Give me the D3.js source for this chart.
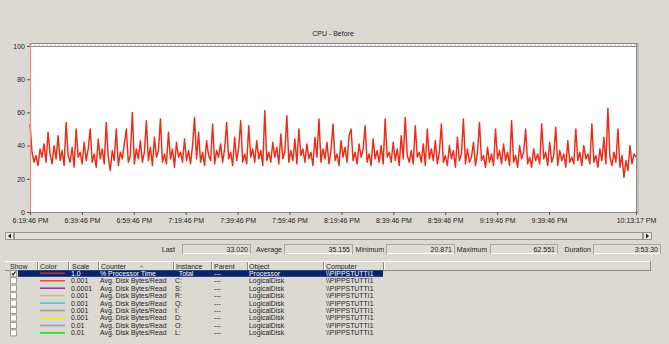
<!DOCTYPE html>
<html>
<head>
<meta charset="utf-8">
<script src="https://cdn.jsdelivr.net/npm/d3@7"></script>
<style>
  body { margin: 0; background: #dcd9d3; }
  svg { display: block; font-family: "Liberation Sans", Arial, sans-serif; }
</style>
</head>
<body>
<div id="chart"></div>
<script>
// Perfmon style chart - CPU before

const width = 669;
const height = 344;
const plot = {left: 30, right: 636, top: 46, bottom: 212};

// ---- data ----
const chartTitle = "CPU - Before";
const startTime = new Date(2010, 0, 1, 18, 19, 46);
const endTime = new Date(2010, 0, 1, 22, 13, 17);
const yTicks = [0, 20, 40, 60, 80, 100];
const xTickLabels = ["6:19:46 PM", "6:39:46 PM", "6:59:46 PM", "7:19:46 PM", "7:39:46 PM",
  "7:59:46 PM", "8:19:46 PM", "8:39:46 PM", "8:59:46 PM", "9:19:46 PM", "9:39:46 PM", "10:13:17 PM"];

// % Processor Time samples
const cpuValues = [
  53, 36, 30, 34, 28, 38, 33, 41, 30, 48,
  35, 29, 40, 32, 46, 31, 37, 28, 54, 34,
  30, 39, 27, 50, 33, 36, 29, 42, 31, 38,
  50, 30, 35, 27, 44, 32, 38, 29, 54, 33,
  25, 37, 31, 50, 28, 36, 32, 41, 50, 30,
  34, 60, 29, 38, 32, 43, 30, 36, 55, 31,
  39, 28, 45, 33, 37, 56, 30, 35, 29, 48,
  32, 38, 27, 42, 33, 36, 30, 44, 31, 37,
  29, 40, 57, 32, 48, 30, 36, 28, 43, 34,
  31, 53, 29, 37, 33, 41, 30, 38, 54, 32,
  36, 28, 45, 31, 39, 55, 30, 35, 29, 52,
  33, 38, 30, 43, 32, 37, 28, 61, 31, 36,
  30, 42, 33, 39, 29, 47, 32, 36, 58, 30,
  37, 31, 44, 29, 50, 34, 38, 30, 41, 32,
  36, 28, 45, 33, 56, 30, 38, 32, 42, 29,
  37, 53, 31, 35, 28, 43, 33, 39, 30, 46,
  50, 31, 36, 29, 41, 33, 38, 52, 30, 35,
  28, 44, 32, 37, 30, 40, 29, 56, 33, 36,
  30, 42, 31, 38, 28, 46, 32, 57, 34, 30,
  37, 29, 52, 33, 36, 30, 41, 28, 50, 32,
  38, 31, 43, 29, 36, 53, 30, 34, 28, 40,
  32, 37, 27, 45, 31, 35, 56, 29, 38, 30,
  33, 42, 28, 36, 54, 31, 34, 27, 39, 30,
  35, 28, 50, 32, 37, 29, 41, 31, 36, 28,
  55, 30, 34, 27, 40, 32, 36, 50, 29, 33,
  27, 38, 31, 35, 29, 53, 32, 36, 28, 42,
  30, 34, 51, 28, 37, 31, 35, 27, 43, 30,
  33, 29, 50, 31, 36, 28, 40, 32, 35, 29,
  53, 30, 34, 27, 38, 31, 45, 29, 62.551, 33,
  28, 36, 30, 50, 27, 34, 20.871, 31, 25, 40,
  29, 35, 33.02
];

const statLabels = ["Last", "Average", "Minimum", "Maximum", "Duration"];
const statValues = ["33.020", "35.155", "20.871", "62.551", "3:53:30"];

const headers = ["Show", "Color", "Scale", "Counter", "Instance", "Parent", "Object", "Computer"];
const showFlags = [true, false, false, false, false, false, false, false, false];
const seriesColors = ["#d42828", "#e8503c", "#8c3c9c", "#d6b98a", "#3cc8ec", "#8fae74", "#f2f000", "#9c9cc0", "#22dc22"];
const scales = ["1.0", "0.001", "0.0001", "0.001", "0.001", "0.001", "0.001", "0.01", "0.01"];
const counters = ["% Processor Time", "Avg. Disk Bytes/Read", "Avg. Disk Bytes/Read", "Avg. Disk Bytes/Read",
  "Avg. Disk Bytes/Read", "Avg. Disk Bytes/Read", "Avg. Disk Bytes/Read", "Avg. Disk Bytes/Read", "Avg. Disk Bytes/Read"];
const instances = ["_Total", "C:", "S:", "R:", "Q:", "I:", "D:", "O:", "L:"];
const parents = ["---", "---", "---", "---", "---", "---", "---", "---", "---"];
const objects = ["Processor", "LogicalDisk", "LogicalDisk", "LogicalDisk", "LogicalDisk",
  "LogicalDisk", "LogicalDisk", "LogicalDisk", "LogicalDisk"];
const computers = ["\\\\PIPPSTUTTI1", "\\\\PIPPSTUTTI1", "\\\\PIPPSTUTTI1", "\\\\PIPPSTUTTI1", "\\\\PIPPSTUTTI1",
  "\\\\PIPPSTUTTI1", "\\\\PIPPSTUTTI1", "\\\\PIPPSTUTTI1", "\\\\PIPPSTUTTI1"];

// sample times spread over the logged duration
const step = (endTime - startTime) / (cpuValues.length - 1);
const samples = cpuValues.map((v, i) => ({t: new Date(+startTime + i * step), v: v}));

const parseTick = d3.timeParse("%-I:%M:%S %p");
const xTicks = xTickLabels.map(s => {
  const p = parseTick(s);
  return new Date(2010, 0, 1, p.getHours(), p.getMinutes(), p.getSeconds());
});

const svg = d3.select("#chart").append("svg")
  .attr("width", width)
  .attr("height", height);

// hatch pattern for top band
const defs = svg.append("defs");
const pat = defs.append("pattern")
  .attr("id", "hatch")
  .attr("width", 4).attr("height", 4)
  .attr("patternUnits", "userSpaceOnUse");
pat.append("rect").attr("width", 4).attr("height", 4).attr("fill", "#ffffff");
pat.append("path").attr("d", "M0,4 L4,0").attr("stroke", "#b0b0b0").attr("stroke-width", 0.8);

// scales
const x = d3.scaleTime().domain([startTime, endTime]).range([plot.left, plot.right]);
const y = d3.scaleLinear().domain([0, 100]).range([plot.bottom, plot.top]);

// title
svg.append("text")
  .attr("x", 333).attr("y", 36)
  .attr("text-anchor", "middle")
  .attr("font-size", "7px")
  .attr("fill", "#222")
  .text(chartTitle);

// plot area
svg.append("rect")
  .attr("x", plot.left).attr("y", 43)
  .attr("width", plot.right - plot.left).attr("height", plot.bottom - 43)
  .attr("fill", "#fff");

svg.append("rect")
  .attr("x", plot.left).attr("y", 43.5)
  .attr("width", plot.right - plot.left + 1).attr("height", 3)
  .attr("fill", "url(#hatch)")
  .attr("stroke", "#8a8a8a").attr("stroke-width", 1);

svg.append("line")
  .attr("x1", plot.right + 0.5).attr("x2", plot.right + 0.5)
  .attr("y1", 43).attr("y2", plot.bottom + 1)
  .attr("stroke", "#8a8a8a");
svg.append("line")
  .attr("x1", plot.right + 2).attr("x2", plot.right + 2)
  .attr("y1", 43).attr("y2", plot.bottom + 1)
  .attr("stroke", "#a8a8a8");

// axes
const yAxis = svg.append("g")
  .attr("transform", `translate(${plot.left},0)`)
  .call(d3.axisLeft(y).tickValues(yTicks).tickSize(3).tickPadding(2));
yAxis.select(".domain").remove();
yAxis.selectAll("line").attr("stroke", "#555");
yAxis.selectAll("text").attr("font-size", "7px").attr("fill", "#222").attr("font-family", "Liberation Sans, Arial");

const xAxis = svg.append("g")
  .attr("transform", `translate(0,${plot.bottom})`)
  .call(d3.axisBottom(x).tickValues(xTicks).tickSize(3).tickPadding(3)
    .tickFormat((d, i) => xTickLabels[i]));
xAxis.select(".domain").attr("stroke", "#8a8a8a").attr("d", `M${plot.left},0.5H${plot.right + 2}`);
xAxis.selectAll("line").attr("stroke", "#555");
xAxis.selectAll("text").attr("font-size", "7px").attr("fill", "#222").attr("font-family", "Liberation Sans, Arial");

// series line
const line = d3.line()
  .x(d => x(d.t))
  .y(d => y(d.v));

svg.append("path")
  .datum(samples)
  .attr("fill", "none")
  .attr("stroke", "#f02a14")
  .attr("stroke-width", 1.45)
  .attr("stroke-linejoin", "round")
  .attr("d", line);

// red time cursor on the left edge
svg.append("line")
  .attr("x1", plot.left + 0.5).attr("x2", plot.left + 0.5)
  .attr("y1", 43).attr("y2", plot.bottom)
  .attr("stroke", "#f08a80").attr("stroke-width", 1.2);

// scroll bar
const sb = svg.append("g");
sb.append("rect").attr("x", 5.5).attr("y", 232.5).attr("width", 646).attr("height", 7)
  .attr("fill", "#ebe9e4").attr("stroke", "#9a978f");
sb.append("rect").attr("x", 14.5).attr("y", 232.5).attr("width", 628).attr("height", 7)
  .attr("fill", "#e2dfd9").attr("stroke", "#9a978f");
sb.append("path").attr("d", "M11,233.5 L8,236 L11,238.5 Z").attr("fill", "#222");
sb.append("path").attr("d", "M646,233.5 L649,236 L646,238.5 Z").attr("fill", "#222");
sb.append("line").attr("x1", 13.5).attr("x2", 13.5).attr("y1", 232).attr("y2", 240).attr("stroke", "#9a978f");
sb.append("line").attr("x1", 643.5).attr("x2", 643.5).attr("y1", 232).attr("y2", 240).attr("stroke", "#9a978f");

// statistics row
const statLabelEnd = [175, 282, 384, 487, 591];
const statBoxX = [182, 284, 386, 490, 593];
const statBoxW = [68, 68, 68, 67, 67];
statLabels.forEach((lab, i) => {
  svg.append("text")
    .attr("x", statLabelEnd[i]).attr("y", 252)
    .attr("text-anchor", "end")
    .attr("font-size", "7px").attr("fill", "#222")
    .text(lab);
  svg.append("rect")
    .attr("x", statBoxX[i] + 0.5).attr("y", 244.5)
    .attr("width", statBoxW[i]).attr("height", 9)
    .attr("fill", "#dedbd5").attr("stroke", "#a9a69f");
  svg.append("line")
    .attr("x1", statBoxX[i] + 1).attr("x2", statBoxX[i] + statBoxW[i])
    .attr("y1", 253.5).attr("y2", 253.5).attr("stroke", "#fff");
  svg.append("text")
    .attr("x", statBoxX[i] + statBoxW[i] - 2).attr("y", 252)
    .attr("text-anchor", "end")
    .attr("font-size", "7px").attr("fill", "#222")
    .text(statValues[i]);
});

// counter table header
const colX = [10, 40, 72, 101, 176, 214, 249, 326];
const sepX = [37, 68, 98, 173, 211, 247, 323, 383];
const head = svg.append("g");
head.append("rect").attr("x", 5).attr("y", 261).attr("width", 645).attr("height", 10).attr("fill", "#dedbd5");
head.append("line").attr("x1", 5).attr("x2", 650).attr("y1", 261.5).attr("y2", 261.5).attr("stroke", "#fff");
head.append("line").attr("x1", 5).attr("x2", 650).attr("y1", 270.5).attr("y2", 270.5).attr("stroke", "#8e8b84");
head.append("line").attr("x1", 650.5).attr("x2", 650.5).attr("y1", 261).attr("y2", 271).attr("stroke", "#8e8b84");
sepX.forEach(sx => {
  head.append("line").attr("x1", sx + 0.5).attr("x2", sx + 0.5).attr("y1", 262).attr("y2", 270).attr("stroke", "#8e8b84");
  head.append("line").attr("x1", sx + 1.5).attr("x2", sx + 1.5).attr("y1", 262).attr("y2", 270).attr("stroke", "#fff");
});
headers.forEach((h, i) => {
  head.append("text")
    .attr("x", colX[i]).attr("y", 268.5)
    .attr("font-size", "7px").attr("fill", "#222")
    .text(h);
});
head.append("path").attr("d", "M140,267.5 L141.5,265.5 L143,267.5").attr("fill", "none").attr("stroke", "#666").attr("stroke-width", 0.8);

// counter rows
const rowY = i => 273.3 + i * 7.45;

svg.append("rect")
  .attr("x", 18).attr("y", rowY(0) - 3)
  .attr("width", 383 - 18).attr("height", 6.5)
  .attr("fill", "#0a246a");

counters.forEach((c, i) => {
  const cy = rowY(i);
  const selected = i === 0;
  const fg = selected ? "#fff" : "#222";
  const g = svg.append("g");

  // checkbox
  g.append("rect").attr("x", 10.5).attr("y", cy - 3).attr("width", 6).attr("height", 6)
    .attr("fill", "#fff").attr("stroke", "#8e8b84").attr("stroke-width", 0.8);
  if (showFlags[i]) {
    g.append("path").attr("d", `M11.8,${cy} L13.2,${cy + 1.6} L15.6,${cy - 1.8}`)
      .attr("fill", "none").attr("stroke", "#000").attr("stroke-width", 1.1);
  }

  // colour swatch
  g.append("line").attr("x1", 40).attr("x2", 65).attr("y1", cy).attr("y2", cy)
    .attr("stroke", seriesColors[i]).attr("stroke-width", 1.6);

  const cells = [scales[i], c, instances[i], parents[i], objects[i], computers[i]];
  const cellX = [71, 100, 175, 214, 249, 326];
  cells.forEach((txt, k) => {
    g.append("text")
      .attr("x", cellX[k]).attr("y", cy + 2.4)
      .attr("font-size", "6.9px").attr("fill", fg)
      .text(txt);
  });
});
</script>
</body>
</html>
